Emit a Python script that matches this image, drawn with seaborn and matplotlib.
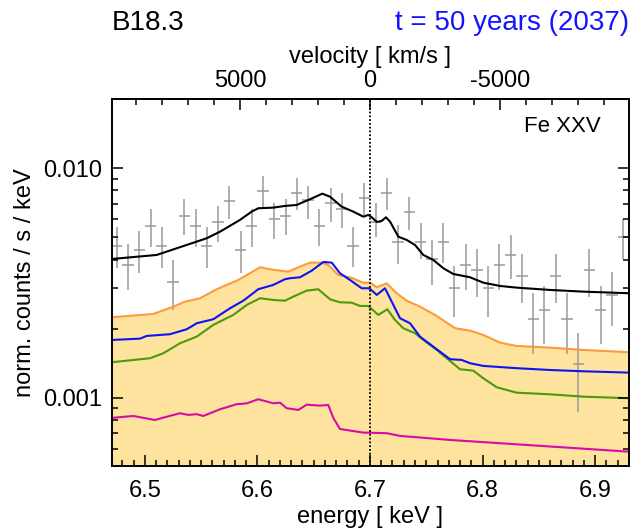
import numpy as np
import pandas as pd
import matplotlib
matplotlib.use("Agg")
import matplotlib.pyplot as plt
import seaborn as sns
from matplotlib.ticker import FixedLocator, FixedFormatter, NullFormatter

# ---------------- data ----------------
# observed spectrum (bin centres, values and error-bar limits)
obs_energy = [6.475, 6.485, 6.495, 6.505, 6.515, 6.525, 6.535, 6.545, 6.555, 6.565,
              6.575, 6.585, 6.595, 6.605, 6.615, 6.625, 6.635, 6.645, 6.655, 6.665,
              6.675, 6.685, 6.695, 6.705, 6.715, 6.725, 6.735, 6.745, 6.755, 6.765,
              6.775, 6.785, 6.795, 6.805, 6.815, 6.825, 6.835, 6.845, 6.855, 6.865,
              6.875, 6.885, 6.895, 6.905, 6.915, 6.925]
obs_value = [0.00460, 0.00379, 0.00440, 0.00562, 0.00460, 0.00320, 0.00621, 0.00562, 0.00460, 0.00582,
             0.00722, 0.00440, 0.00562, 0.00799, 0.00601, 0.00621, 0.00783, 0.00728, 0.00561, 0.00704,
             0.00665, 0.00460, 0.00744, 0.00585, 0.00783, 0.00479, 0.00643, 0.00479, 0.00401, 0.00479,
             0.00302, 0.00379, 0.00360, 0.00302, 0.00379, 0.00419, 0.00339, 0.00220, 0.00240, 0.00339,
             0.00220, 0.00140, 0.00360, 0.00240, 0.00280, 0.00500]
obs_low = [0.00367, 0.00295, 0.00349, 0.00455, 0.00367, 0.00241, 0.00512, 0.00455, 0.00367, 0.00476,
           0.00601, 0.00349, 0.00455, 0.00680, 0.00492, 0.00512, 0.00658, 0.00601, 0.00459, 0.00582,
           0.00548, 0.00370, 0.00626, 0.00502, 0.00658, 0.00383, 0.00538, 0.00401, 0.00310, 0.00385,
           0.00224, 0.00295, 0.00276, 0.00224, 0.00295, 0.00329, 0.00258, 0.00155, 0.00171, 0.00258,
           0.00155, 0.00087, 0.00276, 0.00171, 0.00206, 0.00401]
obs_high = [0.00556, 0.00466, 0.00533, 0.00665, 0.00556, 0.00398, 0.00733, 0.00665, 0.00556, 0.00687,
            0.00837, 0.00533, 0.00665, 0.00928, 0.00708, 0.00733, 0.00905, 0.00837, 0.00663, 0.00818,
            0.00778, 0.00556, 0.00860, 0.00706, 0.00905, 0.00566, 0.00752, 0.00576, 0.00487, 0.00576,
            0.00375, 0.00466, 0.00444, 0.00375, 0.00466, 0.00510, 0.00422, 0.00285, 0.00307, 0.00422,
            0.00285, 0.00192, 0.00444, 0.00307, 0.00354, 0.00599]
obs_halfwidth = 0.005

# total model (black)
total_energy = [6.4707, 6.5104, 6.5282, 6.5548, 6.5667, 6.5844, 6.5948, 6.6007, 6.6140, 6.6244,
                6.6348, 6.6467, 6.6576, 6.6644, 6.6748, 6.6852, 6.6940, 6.6985, 6.7015, 6.7060,
                6.7104, 6.7142, 6.7178, 6.7252, 6.7326, 6.7400, 6.7474, 6.7563, 6.7652, 6.7740,
                6.7889, 6.8007, 6.8156, 6.8304, 6.8600, 6.8896, 6.9311]
total_value = [0.004023, 0.004188, 0.004479, 0.004951, 0.005291, 0.005952, 0.006468, 0.006693, 0.006734, 0.006851,
               0.006918, 0.007327, 0.007749, 0.007519, 0.006803, 0.006468, 0.006152, 0.006258, 0.006116, 0.005835,
               0.005892, 0.006116, 0.005852, 0.005031, 0.004869, 0.004631, 0.004188, 0.003983, 0.003665, 0.003461,
               0.003348, 0.003171, 0.003068, 0.003017, 0.002948, 0.002898, 0.002851]

# orange component (upper edge of the shaded area)
orange_energy = [6.4707, 6.5074, 6.5252, 6.5356, 6.5489, 6.5637, 6.5829, 6.5933, 6.6022, 6.6111,
                 6.6200, 6.6274, 6.6378, 6.6467, 6.6571, 6.6629, 6.6718, 6.6822, 6.6940, 6.7000,
                 6.7060, 6.7148, 6.7237, 6.7326, 6.7444, 6.7593, 6.7756, 6.7889, 6.8007, 6.8156,
                 6.8304, 6.8600, 6.8896, 6.9311]
orange_value = [0.002241, 0.002317, 0.002493, 0.002621, 0.002712, 0.002969, 0.003259, 0.003486, 0.003702, 0.003628,
                0.003577, 0.003542, 0.003725, 0.003877, 0.003877, 0.003789, 0.003426, 0.003348, 0.003171, 0.003171,
                0.003028, 0.003151, 0.002851, 0.002647, 0.002493, 0.002270, 0.002007, 0.001960, 0.001876, 0.001737,
                0.001680, 0.001652, 0.001614, 0.001577]

# blue component
blue_energy = [6.4707, 6.4956, 6.5015, 6.5222, 6.5371, 6.5460, 6.5607, 6.5756, 6.5874, 6.6007,
               6.6140, 6.6244, 6.6289, 6.6378, 6.6482, 6.6585, 6.6660, 6.6733, 6.6822, 6.6926,
               6.6994, 6.7060, 6.7133, 6.7178, 6.7267, 6.7356, 6.7444, 6.7593, 6.7711, 6.7815,
               6.7889, 6.8007, 6.8304, 6.8600, 6.8896, 6.9311]
blue_value = [0.001784, 0.001808, 0.001858, 0.001890, 0.001987, 0.002110, 0.002197, 0.002453, 0.002647, 0.002969,
              0.003100, 0.003283, 0.003316, 0.003348, 0.003577, 0.003904, 0.003877, 0.003486, 0.003259, 0.002998,
              0.002998, 0.002804, 0.002998, 0.002712, 0.002219, 0.002110, 0.001845, 0.001626, 0.001471, 0.001460,
              0.001413, 0.001375, 0.001344, 0.001320, 0.001303, 0.001285]

# green component
green_energy = [6.4707, 6.5044, 6.5163, 6.5311, 6.5460, 6.5607, 6.5785, 6.5904, 6.6022, 6.6140,
                6.6244, 6.6318, 6.6437, 6.6540, 6.6644, 6.6733, 6.6837, 6.6911, 6.6985, 6.7074,
                6.7154, 6.7222, 6.7296, 6.7400, 6.7474, 6.7593, 6.7682, 6.7800, 6.7918, 6.8007,
                6.8126, 6.8304, 6.8600, 6.8896, 6.9311]
green_value = [0.001427, 0.001485, 0.001561, 0.001726, 0.001845, 0.002075, 0.002294, 0.002535, 0.002712, 0.002666,
               0.002647, 0.002756, 0.002927, 0.002969, 0.002685, 0.002604, 0.002594, 0.002510, 0.002510, 0.002294,
               0.002428, 0.002182, 0.002007, 0.001909, 0.001784, 0.001614, 0.001485, 0.001330, 0.001311, 0.001215,
               0.001110, 0.001051, 0.001034, 0.001010, 0.000994]

# magenta component
magenta_energy = [6.4707, 6.4896, 6.5089, 6.5178, 6.5311, 6.5385, 6.5460, 6.5518, 6.5667, 6.5815,
                  6.5904, 6.6007, 6.6140, 6.6200, 6.6260, 6.6363, 6.6437, 6.6556, 6.6629, 6.6674,
                  6.6733, 6.6940, 6.7148, 6.7267, 6.7711, 6.9311]
magenta_value = [0.000816, 0.000832, 0.000799, 0.000822, 0.000855, 0.000841, 0.000847, 0.000832, 0.000890, 0.000936,
                 0.000944, 0.000984, 0.000945, 0.000951, 0.000899, 0.000884, 0.000932, 0.000923, 0.000929, 0.000816,
                 0.000730, 0.000704, 0.000700, 0.000681, 0.000654, 0.000581]

line_energy = 6.7          # Fe XXV rest energy (keV), velocity zero
kms_per_kev = 43350.0     # velocity scale of the top axis

x_major = [6.5, 6.6, 6.7, 6.8, 6.9]
x_major_labels = ["6.5", "6.6", "6.7", "6.8", "6.9"]
y_major = [0.001, 0.010]
y_major_labels = ["0.001", "0.010"]
v_major = [5000, 0, -5000]
v_major_labels = ["5000", "0", "-5000"]

# ---------------- style ----------------
sns.set_theme(style="ticks")
plt.rcParams['font.family'] = ['Liberation Sans', 'DejaVu Sans']
plt.rcParams.update({
    'axes.linewidth': 1.4,
    'axes.edgecolor': 'black',
    'axes.labelcolor': 'black',
    'text.color': 'black',
    'xtick.color': 'black',
    'ytick.color': 'black',
    'axes.axisbelow': False,
})
TICK_FS = 17

fig = plt.figure(figsize=(6.31, 5.32), dpi=100)
W, H = 631.0, 532.0
ax = fig.add_axes([112 / W, 66 / H, 517 / W, 367 / H])
ax.set_axisbelow(False)
ax.set_yscale('log')
ax.set_xlim(6.47067, 6.93022)
ax.set_ylim(5.035e-4, 2.004e-2)

# shaded area under the orange curve
ax.fill_between(orange_energy, orange_value, 1e-6, color='#fde39e', lw=0, zorder=1)

# observed data crosses
obs = pd.DataFrame({"E": obs_energy, "v": obs_value, "lo": obs_low, "hi": obs_high})
ax.errorbar(obs["E"], obs["v"], xerr=obs_halfwidth,
            yerr=[obs["v"] - obs["lo"], obs["hi"] - obs["v"]],
            fmt='none', ecolor='#999999', elinewidth=1.1, capsize=0, zorder=1.5)

# model curves
curves = [
    (orange_energy, orange_value, '#ff9a3c'),
    (magenta_energy, magenta_value, '#d90aa6'),
    (green_energy, green_value, '#4a9a0a'),
    (blue_energy, blue_value, '#0a14f5'),
    (total_energy, total_value, '#000000'),
]
for ex, vy, col in curves:
    sns.lineplot(x=ex, y=vy, color=col, lw=1.5, ax=ax, zorder=2, sort=False)

ax.axvline(line_energy, color='black', lw=1.3, ls=(0, (1, 1.1)), zorder=2.2)

# ticks: bottom / left / right
ax.xaxis.set_major_locator(FixedLocator(x_major))
ax.xaxis.set_major_formatter(FixedFormatter(x_major_labels))
ax.xaxis.set_minor_locator(FixedLocator([round(6.47 + 0.01 * i, 2) for i in range(47)]))
ax.yaxis.set_major_locator(FixedLocator(y_major))
ax.yaxis.set_major_formatter(FixedFormatter(y_major_labels))
ax.yaxis.set_minor_locator(FixedLocator([m * d for d in (1e-4, 1e-3, 1e-2) for m in range(2, 10)]))
ax.yaxis.set_minor_formatter(NullFormatter())
ax.tick_params(axis='x', which='both', direction='in', top=False, bottom=True,
               labelsize=TICK_FS, pad=10)
ax.tick_params(axis='y', which='both', direction='in', left=True, right=True,
               labelsize=TICK_FS, pad=7)
ax.tick_params(which='major', length=8, width=1.1, color='black')
ax.tick_params(which='minor', length=4.5, width=1.1, color='black')

# top velocity axis
def e2v(e):
    return (line_energy - np.asarray(e)) * kms_per_kev

def v2e(v):
    return line_energy - np.asarray(v) / kms_per_kev

sec = ax.secondary_xaxis('top', functions=(e2v, v2e))
sec.xaxis.set_major_locator(FixedLocator(v_major))
sec.xaxis.set_major_formatter(FixedFormatter(v_major_labels))
sec.xaxis.set_minor_locator(FixedLocator(list(range(-12000, 13000, 1000))))
sec.tick_params(which='both', direction='in', labelsize=TICK_FS, pad=5, color='black')
sec.tick_params(which='major', length=8, width=1.1)
sec.tick_params(which='minor', length=4.5, width=1.1)
sec.spines['top'].set_linewidth(1.4)
sec.spines['top'].set_color('black')

# labels and titles
fig.text(370 / W, 1 - 517 / H, "energy [ keV ]", ha='center', va='center', fontsize=17)
fig.text(25 / W, 1 - 283 / H, "norm. counts / s / keV", ha='center', va='center',
         rotation=90, fontsize=17)
fig.text(370 / W, 1 - 57 / H, "velocity [ km/s ]", ha='center', va='center', fontsize=17)
fig.text(112 / W, 1 - 30 / H, "B18.3", ha='left', va='baseline', fontsize=20)
fig.text(629 / W, 1 - 30 / H, "t = 50 years (2037)", ha='right', va='baseline',
         fontsize=20, color='#1414ff')
ax.text(0.871, 0.925, "Fe XXV", transform=ax.transAxes, ha='center',
        va='center', fontsize=16)

fig.savefig("out.png", dpi=100)
